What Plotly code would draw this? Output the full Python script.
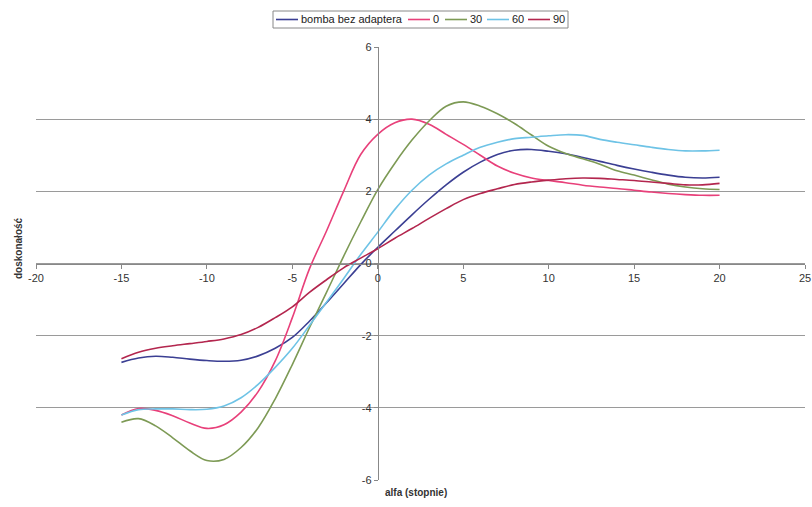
import plotly.graph_objects as go

# angle of attack (degrees)
alfa = list(range(-15, 21))

# lift-to-drag ratio for each configuration
bomba = [-2.74, -2.62, -2.57, -2.60, -2.65, -2.69, -2.71, -2.68, -2.56, -2.35,
         -2.05, -1.60, -1.09, -0.56, -0.03, 0.45, 0.90, 1.35, 1.78, 2.18,
         2.53, 2.81, 3.02, 3.14, 3.16, 3.11, 3.04, 2.94, 2.83, 2.72,
         2.62, 2.53, 2.45, 2.39, 2.37, 2.39]
s0 = [-4.20, -4.02, -4.07, -4.22, -4.42, -4.57, -4.47, -4.12, -3.55, -2.70,
      -1.50, -0.15, 0.90, 2.00, 3.02, 3.58, 3.90, 4.00, 3.86, 3.58,
      3.30, 3.00, 2.70, 2.50, 2.37, 2.30, 2.24, 2.17, 2.12, 2.08,
      2.03, 1.98, 1.94, 1.91, 1.89, 1.89]
s30 = [-4.40, -4.30, -4.50, -4.83, -5.19, -5.46, -5.43, -5.10, -4.55, -3.75,
       -2.80, -1.78, -0.80, 0.20, 1.15, 2.05, 2.78, 3.42, 3.95, 4.36,
       4.48, 4.36, 4.15, 3.88, 3.56, 3.25, 3.05, 2.90, 2.75, 2.57,
       2.45, 2.32, 2.20, 2.12, 2.07, 2.05]
s60 = [-4.20, -4.05, -4.03, -4.03, -4.05, -4.04, -3.95, -3.72, -3.35, -2.88,
       -2.35, -1.72, -1.07, -0.42, 0.25, 0.87, 1.50, 2.03, 2.45, 2.76,
       3.00, 3.22, 3.36, 3.46, 3.50, 3.54, 3.57, 3.55, 3.44, 3.36,
       3.29, 3.22, 3.16, 3.12, 3.12, 3.14]
s90 = [-2.64, -2.46, -2.35, -2.28, -2.22, -2.16, -2.09, -1.97, -1.77, -1.50,
       -1.20, -0.80, -0.45, -0.12, 0.15, 0.41, 0.70, 0.97, 1.25, 1.52,
       1.77, 1.94, 2.07, 2.19, 2.26, 2.31, 2.35, 2.37, 2.36, 2.33,
       2.30, 2.26, 2.22, 2.18, 2.18, 2.22]

series_names = ["bomba bez adaptera", "0", "30", "60", "90"]
series_values = [bomba, s0, s30, s60, s90]
series_colors = ["#3b3f93", "#e8407a", "#7d9a55", "#6ec3e6", "#b3264e"]

x_ticks = [-20, -15, -10, -5, 0, 5, 10, 15, 20, 25]
y_ticks = [-6, -4, -2, 0, 2, 4, 6]

W, H = 812, 507
ML, MR, MT, MB = 36, 7, 47, 27
PW, PH = W - ML - MR, H - MT - MB


def px_x(px):
    """Horizontal pixel -> paper fraction."""
    return (px - ML) / PW


def px_y(py):
    """Vertical pixel (from top) -> paper fraction."""
    return (H - MB - py) / PH


fig = go.Figure()
for name, vals, col in zip(series_names, series_values, series_colors):
    fig.add_trace(go.Scatter(
        x=alfa, y=vals, name=name, mode="lines", showlegend=False,
        line=dict(color=col, width=1.6, shape="spline", smoothing=1.0),
    ))

font_family = "Liberation Sans, Arial, sans-serif"

# compact legend box along the top edge
leg_left, leg_right, leg_top, leg_bot = 273, 568, 11, 28
leg_mid = (leg_top + leg_bot) / 2
sample_starts = [276, 408, 445, 487, 528]
sample_len = 22

shapes = [dict(type="rect", xref="paper", yref="paper",
               x0=px_x(leg_left), x1=px_x(leg_right),
               y0=px_y(leg_bot), y1=px_y(leg_top),
               line=dict(color="#888", width=1), fillcolor="white", layer="above")]
annotations = []
for name, col, sx in zip(series_names, series_colors, sample_starts):
    shapes.append(dict(type="line", xref="paper", yref="paper",
                       x0=px_x(sx), x1=px_x(sx + sample_len),
                       y0=px_y(leg_mid), y1=px_y(leg_mid),
                       line=dict(color=col, width=1.6), layer="above"))
    annotations.append(dict(text=name, xref="paper", yref="paper",
                            x=px_x(sx + sample_len + 1), y=px_y(leg_mid),
                            xanchor="left", yanchor="middle", showarrow=False,
                            font=dict(size=11, color="#222")))

annotations += [
    dict(text="<b>alfa (stopnie)</b>", x=px_x(416), y=px_y(492), xref="paper", yref="paper",
         xanchor="center", yanchor="middle", showarrow=False,
         font=dict(size=10, color="#333")),
    dict(text="<b>doskonałość</b>", x=px_x(18), y=px_y(248), xref="paper", yref="paper",
         xanchor="center", yanchor="middle", textangle=-90, showarrow=False,
         font=dict(size=10, color="#333")),
]

fig.update_layout(
    width=W, height=H,
    margin=dict(l=ML, r=MR, t=MT, b=MB, autoexpand=False),
    paper_bgcolor="white", plot_bgcolor="white",
    font=dict(family=font_family, size=11, color="#333"),
    showlegend=False,
    xaxis=dict(
        range=[-20, 25], tickvals=x_ticks, ticktext=[str(v) for v in x_ticks],
        showgrid=False, zeroline=False, automargin=False,
        showline=True, linecolor="#888", linewidth=1,
        ticks="outside", ticklen=4, tickcolor="#888",
        anchor="free", position=0.5,
        tickfont=dict(size=11, color="#333"),
    ),
    yaxis=dict(
        range=[-6, 6], tickvals=y_ticks, ticktext=[str(v) for v in y_ticks],
        showgrid=True, gridcolor="#9a9a9a", gridwidth=1,
        zeroline=False, automargin=False,
        showline=True, linecolor="#888", linewidth=1,
        ticks="outside", ticklen=4, tickcolor="#888",
        anchor="free", position=20 / 45,
        tickfont=dict(size=11, color="#333"),
    ),
    shapes=shapes,
    annotations=annotations,
)

fig.write_html("out.html")
